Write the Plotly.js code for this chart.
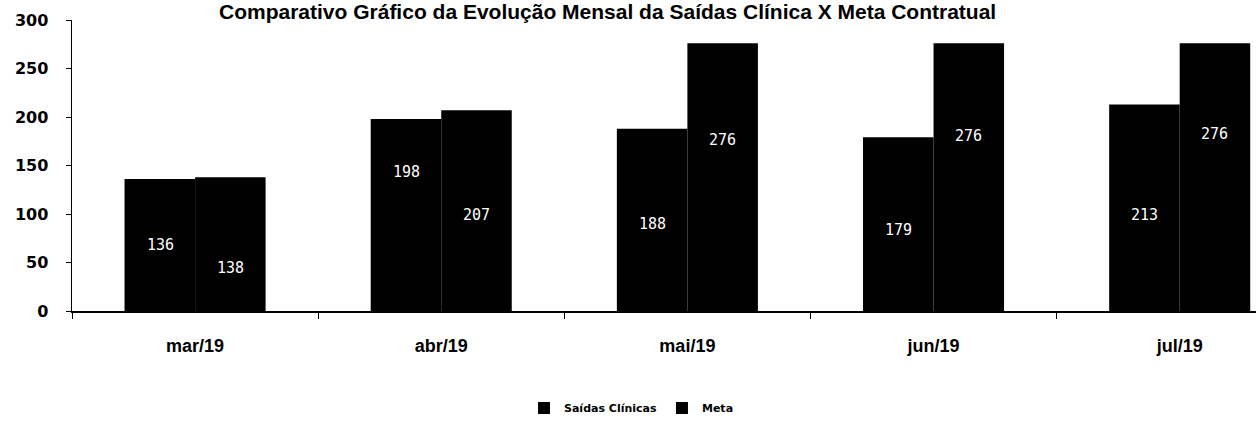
<!DOCTYPE html>
<html>
<head>
<meta charset="utf-8">
<script src="https://cdn.plot.ly/plotly-3.0.1.min.js"></script>
<style>html,body{margin:0;padding:0;background:#fff;}#chart{width:1258px;height:429px;}</style>
</head>
<body>
<div id="chart"></div>
<script>
const categories = ['mar/19', 'abr/19', 'mai/19', 'jun/19', 'jul/19'];
const saidasClinicas = [136, 198, 188, 179, 213];
const meta = [138, 207, 276, 276, 276];
const seriesNames = ['Saídas Clínicas', 'Meta'];
const yTicks = [0, 50, 100, 150, 200, 250, 300];
const titleText = 'Comparativo Gráfico da Evolução Mensal da Saídas Clínica X Meta Contratual';

// label heights (data units) where the value labels sit inside the bars
const saidasLabelY = [68, 143, 90, 84, 99];
const metaLabelY = [44, 99, 176, 180, 182];

const traces = [
  {type: 'bar', name: seriesNames[0], x: categories, y: saidasClinicas,
   marker: {color: '#000000', line: {width: 0}}, hoverinfo: 'skip'},
  {type: 'bar', name: seriesNames[1], x: categories, y: meta,
   marker: {color: '#000000', line: {width: 0}}, hoverinfo: 'skip'}
];

const annotations = [];
const labelFont = {family: 'DejaVu Sans Mono, monospace', size: 15, color: '#ffffff'};
categories.forEach((c, i) => {
  annotations.push({x: c, y: saidasLabelY[i], xref: 'x', yref: 'y', text: String(saidasClinicas[i]),
    showarrow: false, xshift: -35, font: labelFont});
  annotations.push({x: c, y: metaLabelY[i], xref: 'x', yref: 'y', text: String(meta[i]),
    showarrow: false, xshift: 35, font: labelFont});
});

const layout = {
  width: 1258, height: 429,
  margin: {l: 72, r: 2, t: 20, b: 118, pad: 0},
  paper_bgcolor: '#ffffff', plot_bgcolor: '#ffffff',
  barmode: 'group', bargap: 0.427, bargroupgap: 0,
  title: {text: '<b>' + titleText + '</b>', x: 0.483, xanchor: 'center', y: 0.974, yanchor: 'middle',
          yref: 'container', font: {family: 'Liberation Sans, Arial, sans-serif', size: 21, color: '#000'}},
  xaxis: {range: [-0.5, 4.31], showline: true, linecolor: '#000', linewidth: 1.5,
          ticks: 'outside', tickson: 'boundaries', ticklen: 6, tickcolor: '#000',
          showgrid: false, zeroline: false, ticklabelstandoff: 18,
          tickfont: {family: 'Liberation Sans Narrow, Liberation Sans, Arial, sans-serif', size: 18, color: '#000', weight: 'bold'}},
  yaxis: {range: [0, 300], tickvals: yTicks, showline: true, linecolor: '#000', linewidth: 1.5,
          ticks: 'outside', ticklen: 5, tickcolor: '#000', showgrid: false, zeroline: false,
          ticklabelstandoff: 14,
          tickfont: {family: 'DejaVu Sans, Verdana, sans-serif', size: 16, color: '#000', weight: 'bold'}},
  showlegend: true,
  legend: {orientation: 'h', xref: 'container', yref: 'container', x: 0.502, xanchor: 'center',
           y: 0.049, yanchor: 'middle', itemwidth: 30, tracegroupgap: 0,
           font: {family: 'DejaVu Sans, Verdana, sans-serif', size: 11, color: '#000', weight: 'bold'}},
  annotations: annotations
};

Plotly.newPlot('chart', traces, layout, {displayModeBar: false, staticPlot: true});
</script>
</body>
</html>
